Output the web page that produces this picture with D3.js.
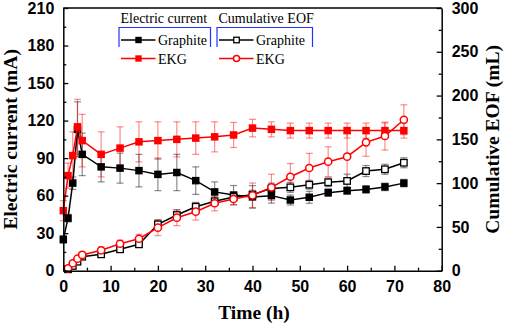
<!DOCTYPE html>
<html>
<head>
<meta charset="utf-8">
<script src="https://cdn.jsdelivr.net/npm/d3@7"></script>
<style>
	body { margin: 0; background: #fff; }
	svg { display: block; font-family: "Liberation Serif", "Times New Roman", serif; }
	.tick text { font-weight: bold; font-size: 16px; fill: #000; }
</style>
</head>
<body>
<svg id="chart" width="505" height="326"></svg>
<script>
// time points (h)
const timeCurrent = [0, 1, 2, 3, 4, 8, 12, 16, 20, 24, 28, 32, 36, 40, 44, 48, 52, 56, 60, 64, 68, 72];
const timeEOF = [1, 2, 3, 4, 8, 12, 16, 20, 24, 28, 32, 36, 40, 44, 48, 52, 56, 60, 64, 68, 72];

// electric current (mA)
const graphiteCurrent = [25, 42, 70, 113, 93, 83, 82, 80, 77, 78.5, 72, 63, 60.5, 59, 60, 56.5, 58.7, 62.4, 64, 65, 67, 70];
const graphiteCurrentErr = [3, 3, 5, 22, 17, 12, 12, 13, 13, 14.5, 11, 8, 7.6, 9, 6, 4, 4.8, 3, 3, 3, 3, 3];
const ekgCurrent = [48, 76, 92, 115, 104, 93, 98, 103, 104, 105, 106, 107, 108.5, 114, 113, 112, 112, 112, 112, 112, 112, 112];
const ekgCurrentErr = [8, 10, 19, 22, 21, 18, 17, 16, 15, 14, 13, 12, 10, 7, 6, 6, 6, 6, 6, 6, 6, 6];

// cumulative EOF (mL)
const graphiteEOF = [1.6, 5.4, 10.3, 16, 18.7, 24.4, 30.1, 53, 63.6, 73, 79.3, 84.2, 86.8, 94, 95.2, 98.2, 101, 102.5, 113.8, 115.8, 123.3];
const graphiteEOFErr = [1, 2, 2, 3, 3, 3, 3, 5, 6, 5, 5, 5, 5, 6, 5.7, 5, 5, 7.7, 6.3, 5.7, 5.7];
const ekgEOF = [2.7, 8.5, 13.7, 18, 23.3, 30.8, 36.5, 49.1, 60.5, 67.4, 77, 81.9, 86.1, 95.2, 107.3, 117.3, 124.5, 130.2, 146.6, 153.8, 172.4];
const ekgEOFErr = [1, 2, 2, 3, 4, 4, 5, 9, 9, 9.6, 8.6, 7, 14, 15, 15, 16.7, 17, 27, 16, 16, 17];

const xTicks = [0, 10, 20, 30, 40, 50, 60, 70, 80];
const yLeftTicks = [0, 30, 60, 90, 120, 150, 180, 210];
const yRightTicks = [0, 50, 100, 150, 200, 250, 300];

const legendGroups = ['Electric current', 'Cumulative EOF'];
const legendNames = ['Graphite', 'EKG'];

const svg = d3.select('#chart');
const pLeft = 63.3, pRight = 441.7, pTop = 8, pBottom = 270.7;

const x = d3.scaleLinear().domain([0, 80]).range([pLeft, pRight]);
const yL = d3.scaleLinear().domain([0, 210]).range([pBottom, pTop]);
const yR = d3.scaleLinear().domain([0, 300]).range([pBottom, pTop]);

const zip = (ts, vs, es) => ts.map((t, i) => ({t, v: vs[i], e: es[i]}));

const series = [
	{data: zip(timeCurrent, graphiteCurrent, graphiteCurrentErr), y: yL, color: '#000', err: 'rgba(0,0,0,0.45)', shape: 'square', fill: '#000'},
	{data: zip(timeCurrent, ekgCurrent, ekgCurrentErr), y: yL, color: '#ff0000', err: 'rgba(255,0,0,0.45)', shape: 'square', fill: '#ff0000'},
	{data: zip(timeEOF, graphiteEOF, graphiteEOFErr), y: yR, color: '#000', err: 'rgba(0,0,0,0.45)', shape: 'square', fill: '#fff'},
	{data: zip(timeEOF, ekgEOF, ekgEOFErr), y: yR, color: '#ff0000', err: 'rgba(255,0,0,0.45)', shape: 'circle', fill: '#fff'},
];

function drawMarker(g, s, cx, cy, k = 1) {
	if (s.shape === 'circle') {
		g.append('circle')
			.attr('cx', cx).attr('cy', cy).attr('r', 3.6 * k)
			.attr('fill', s.fill).attr('stroke', s.color).attr('stroke-width', 1.5);
	} else {
		const open = s.fill === '#fff';
		const w = (open ? 6.5 : 7.5) * k;
		g.append('rect')
			.attr('x', cx - w / 2).attr('y', cy - w / 2)
			.attr('width', w).attr('height', w)
			.attr('fill', s.fill)
			.attr('stroke', s.color).attr('stroke-width', open ? 1.3 : 0);
	}
}

// error bars first, then lines and markers
const plot = svg.append('g');
series.forEach(s => {
	const eb = plot.append('g').attr('stroke', s.err).attr('stroke-width', 1.2).attr('fill', 'none');
	s.data.forEach(d => {
		const cx = x(d.t), y1 = s.y(d.v + d.e), y2 = s.y(d.v - d.e);
		eb.append('line').attr('x1', cx).attr('x2', cx).attr('y1', y1).attr('y2', y2);
		eb.append('line').attr('x1', cx - 3.5).attr('x2', cx + 3.5).attr('y1', y1).attr('y2', y1);
		eb.append('line').attr('x1', cx - 3.5).attr('x2', cx + 3.5).attr('y1', y2).attr('y2', y2);
	});
});
series.forEach(s => {
	const g = plot.append('g');
	g.append('path')
		.datum(s.data)
		.attr('fill', 'none')
		.attr('stroke', s.color)
		.attr('stroke-width', 1.5)
		.attr('d', d3.line().x(d => x(d.t)).y(d => s.y(d.v)));
	s.data.forEach(d => drawMarker(g, s, x(d.t), s.y(d.v)));
});

// axes: major ticks inward, minor ticks in between
const minor = (ticks) => ticks.slice(0, -1).map((t, i) => (t + ticks[i + 1]) / 2);
const styleAxis = g => {
	g.selectAll('.domain').attr('stroke-width', 1.5);
	g.selectAll('.tick line').attr('stroke-width', 1.3);
};

svg.append('g').attr('transform', `translate(0,${pBottom})`)
	.call(d3.axisBottom(x).tickValues(xTicks).tickSize(-5).tickPadding(10).tickSizeOuter(0))
	.call(styleAxis);
svg.append('g').attr('transform', `translate(0,${pBottom})`)
	.call(d3.axisBottom(x).tickValues(minor(xTicks)).tickSize(-3).tickFormat(''))
	.call(g => g.select('.domain').remove()).call(styleAxis);

svg.append('g').attr('transform', `translate(${pLeft},0)`)
	.call(d3.axisLeft(yL).tickValues(yLeftTicks).tickSize(-5).tickPadding(9).tickSizeOuter(0))
	.call(styleAxis);
svg.append('g').attr('transform', `translate(${pLeft},0)`)
	.call(d3.axisLeft(yL).tickValues(minor(yLeftTicks)).tickSize(-3).tickFormat(''))
	.call(g => g.select('.domain').remove()).call(styleAxis);

svg.append('g').attr('transform', `translate(${pRight},0)`)
	.call(d3.axisRight(yR).tickValues(yRightTicks).tickSize(-5).tickPadding(10).tickSizeOuter(0))
	.call(styleAxis);
svg.append('g').attr('transform', `translate(${pRight},0)`)
	.call(d3.axisRight(yR).tickValues(minor(yRightTicks)).tickSize(-3).tickFormat(''))
	.call(g => g.select('.domain').remove()).call(styleAxis);

// top frame line
svg.append('line')
	.attr('x1', pLeft).attr('x2', pRight).attr('y1', pTop).attr('y2', pTop)
	.attr('stroke', '#000').attr('stroke-width', 1.5);

// axis titles
svg.append('text')
	.attr('transform', `translate(17,${(pTop + pBottom) / 2}) rotate(-90)`)
	.attr('text-anchor', 'middle')
	.attr('font-weight', 'bold').attr('font-size', 19.5)
	.text('Electric current (mA)');
svg.append('text')
	.attr('transform', `translate(498.5,${(pTop + pBottom) / 2}) rotate(-90)`)
	.attr('text-anchor', 'middle')
	.attr('font-weight', 'bold').attr('font-size', 19.5)
	.text('Cumulative EOF (mL)');
svg.append('text')
	.attr('x', 254).attr('y', 318.5)
	.attr('text-anchor', 'middle')
	.attr('font-weight', 'bold').attr('font-size', 19.5)
	.text('Time (h)');

// legend
const legend = svg.append('g').attr('font-size', 14);
const colX = [118.5, 216.5];
const brW = [92, 96];
legendGroups.forEach((name, c) => {
	const g = legend.append('g').attr('transform', `translate(${colX[c]},0)`);
	g.append('text').attr('x', 2).attr('y', 22.5).text(name);
	g.append('path')
		.attr('d', `M0.5,47V27.5H${brW[c]}V47`)
		.attr('fill', 'none').attr('stroke', '#2233ff').attr('stroke-width', 1.2);
	legendNames.forEach((n, r) => {
		const s = series[c * 2 + r];
		const cy = 40 + r * 18.5;
		g.append('line')
			.attr('x1', 2.5).attr('x2', 37).attr('y1', cy).attr('y2', cy)
			.attr('stroke', s.color).attr('stroke-width', 1.5);
		drawMarker(g, s, 20, cy, 0.85);
		g.append('text').attr('x', 39.5).attr('y', cy + 5).text(n);
	});
});
</script>
</body>
</html>
